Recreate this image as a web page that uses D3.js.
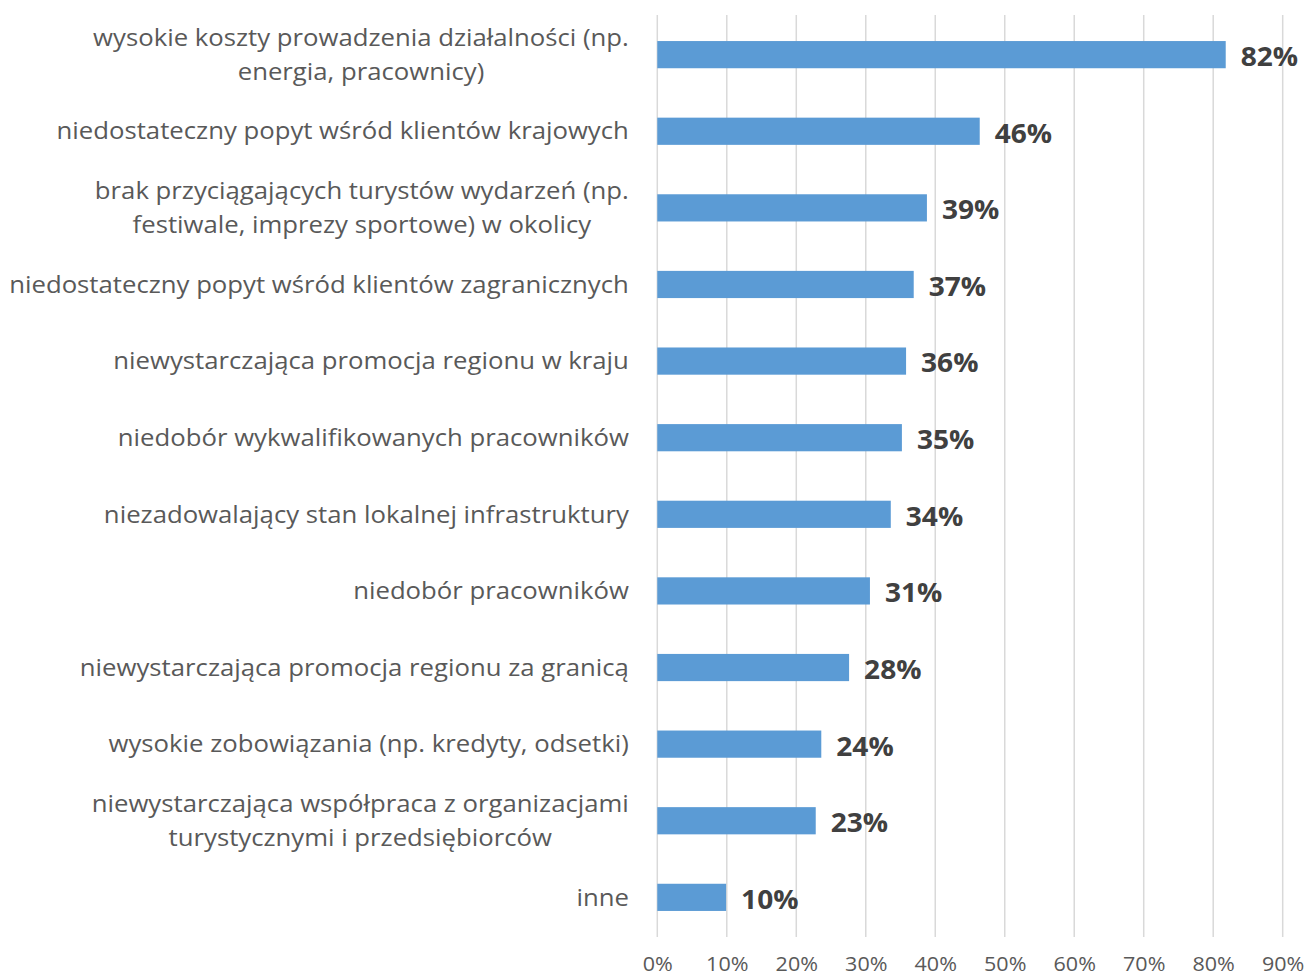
<!DOCTYPE html>
<html>
<head>
<meta charset="utf-8">
<script src="https://cdn.jsdelivr.net/npm/d3@7"></script>
<style>
  body { margin: 0; background: #fff; }
  svg { display: block; font-family: "Open Sans", sans-serif; }
</style>
</head>
<body>
<script>
const CATEGORIES = [
  ["wysokie koszty prowadzenia działalności (np.", "energia, pracownicy)"],
  ["niedostateczny popyt wśród klientów krajowych"],
  ["brak przyciągających turystów wydarzeń (np.", "festiwale, imprezy sportowe) w okolicy"],
  ["niedostateczny popyt wśród klientów zagranicznych"],
  ["niewystarczająca promocja regionu w kraju"],
  ["niedobór wykwalifikowanych pracowników"],
  ["niezadowalający stan lokalnej infrastruktury"],
  ["niedobór pracowników"],
  ["niewystarczająca promocja regionu za granicą"],
  ["wysokie zobowiązania (np. kredyty, odsetki)"],
  ["niewystarczająca współpraca z organizacjami", "turystycznymi i przedsiębiorców"],
  ["inne"]
];

const VALUES = [81.8, 46.4, 38.8, 36.9, 35.8, 35.2, 33.6, 30.6, 27.6, 23.6, 22.8, 9.9];

const X_TICKS = [0, 10, 20, 30, 40, 50, 60, 70, 80, 90];

const width = 1306,
  height = 977,
  margin = { left: 657.3, right: 23.3, top: 15, bottom: 40 };

// the reference font is a bit wider than Open Sans
const stretch = 1.095;

const svg = d3
  .select("body")
  .append("svg")
  .attr("width", width)
  .attr("height", height);

const xScale = d3
  .scaleLinear()
  .domain([0, 90])
  .range([margin.left, width - margin.right]);

const yScale = d3
  .scaleBand()
  .domain(d3.range(CATEGORIES.length))
  .range([margin.top, height - margin.bottom])
  .paddingInner(0.645)
  .paddingOuter(0.34);

// gridlines
svg
  .append("g")
  .selectAll("line")
  .data(X_TICKS)
  .join("line")
  .attr("x1", d => xScale(d))
  .attr("x2", d => xScale(d))
  .attr("y1", margin.top)
  .attr("y2", height - margin.bottom)
  .attr("stroke", "#d9d9d9")
  .attr("stroke-width", 1.5);

// x axis labels
const xAxis = d3
  .axisBottom(xScale)
  .tickValues(X_TICKS)
  .tickFormat(d => d + "%")
  .tickSize(0)
  .tickPadding(0);

svg
  .append("g")
  .attr("transform", `translate(0, ${height - margin.bottom + 19})`)
  .call(xAxis)
  .call(g => g.select(".domain").remove())
  .call(g =>
    g
      .selectAll("text")
      .attr("fill", "#595959")
      .attr("font-size", 20.5)
      .attr("font-family", "Open Sans, sans-serif")
      .attr("transform", "scale(1.05,1)")
  );

// bars
svg
  .append("g")
  .selectAll("rect")
  .data(VALUES)
  .join("rect")
  .attr("x", xScale(0))
  .attr("y", (d, i) => yScale(i))
  .attr("width", d => xScale(d) - xScale(0))
  .attr("height", yScale.bandwidth())
  .attr("fill", "#5b9bd5");

// value labels
svg
  .append("g")
  .selectAll("text")
  .data(VALUES)
  .join("text")
  .attr(
    "transform",
    (d, i) =>
      `translate(${xScale(d) + 15}, ${yScale(i) + yScale.bandwidth() / 2 + 2}) scale(1.08,1)`
  )
  .attr("dy", "0.36em")
  .attr("font-size", 26)
  .attr("font-weight", "bold")
  .attr("fill", "#404040")
  .text(d => Math.round(d) + "%");

// category labels (multi-line wrapped labels are centred as a block)
const labelRight = 629;
const lineGap = 34;
const labels = svg.append("g");

CATEGORIES.forEach((lines, i) => {
  const cy = yScale(i) + yScale.bandwidth() / 2;
  const g = labels.append("g");
  const texts = g
    .selectAll("text")
    .data(lines)
    .join("text")
    .attr("dy", "0.35em")
    .attr("font-size", 23.5)
    .attr("fill", "#595959")
    .attr("text-anchor", "middle")
    .text(d => d);
  const maxW = d3.max(texts.nodes(), n => n.getComputedTextLength()) * stretch;
  texts.attr(
    "transform",
    (d, j) =>
      `translate(${labelRight - maxW / 2}, ${cy + (j - (lines.length - 1) / 2) * lineGap}) scale(${stretch},1)`
  );
});
</script>
</body>
</html>
